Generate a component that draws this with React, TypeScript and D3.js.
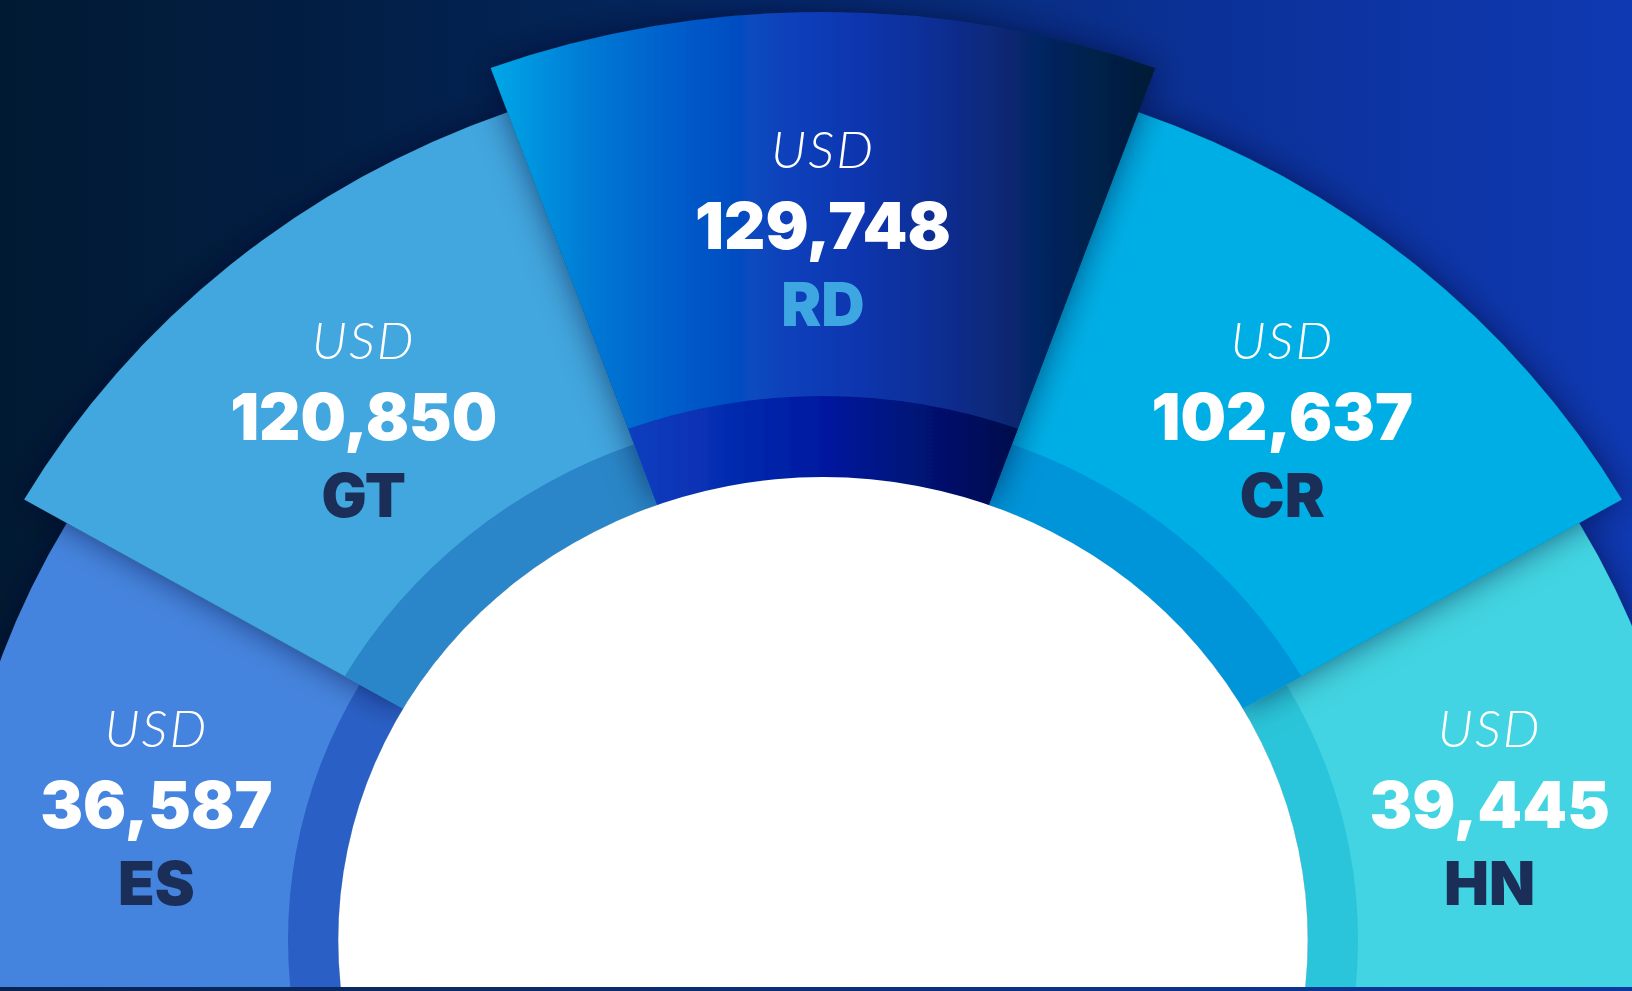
import * as d3 from "d3";
import { useEffect } from "react";

const countries = ["ES", "GT", "RD", "CR", "HN"];
const values = [36587, 120850, 129748, 102637, 39445];
const currency = "USD";

// styles, one per country
const outerFills = ["#4584de", "#43a6df", "url(#rd-outer)", "#04aee6", "#42d4e2"];
const bandFills = ["#2a60c6", "#2a86c8", "url(#rd-band)", "#0394d9", "#2bc5da"];
const codeFills = ["#1b2e58", "#1b2e58", "#3ea7e2", "#1b2e58", "#1b2e58"];

const W = 1632;
const H = 991;
const cx = 823;
const cy = 940;
const sx = 1.047; // the artwork is a little wider than tall
const inner = 463;
const rad = Math.PI / 180;

const angle = d3
  .scaleBand<string>()
  .domain(countries)
  .range([-100 * rad, 100 * rad]);

// stylised: three radius steps rather than a true linear length
const radius = d3
  .scaleThreshold<number, number>()
  .domain([50000, 125000])
  .range([834, 881, 928]);

// the dark inner band and the label ring grow with the wedge
const bandOf = d3.scaleLinear().domain([834, 928]).range([511, 544]);
const labelOf = d3.scaleLinear().domain([834, 928]).range([651, 714]);

const fmt = d3.format(",");

export default function App() {
  useEffect(() => {
    document.body.style.margin = "0";
  }, []);

  const rows = countries.map((c, i) => {
    const a0 = angle(c)!;
    const a1 = a0 + angle.bandwidth();
    const r = radius(values[i]);
    // keep the end labels in the visible part of the wedge
    const la = (Math.max(a0, -96 * rad) + Math.min(a1, 96 * rad)) / 2;
    const lr = labelOf(r);
    return {
      c,
      i,
      v: values[i],
      a0,
      a1,
      r,
      band: bandOf(r),
      lx: cx + sx * lr * Math.sin(la),
      ly: cy - lr * Math.cos(la),
    };
  });

  // smaller wedges first, so the larger ones cast their shadow on them
  const order = [...rows].sort((a, b) => a.v - b.v);

  const arc = d3.arc<any>();

  return (
    <svg
      width={W}
      height={H}
      style={{ display: "block", position: "absolute", left: 0, top: 0 }}
    >
      <defs>
        <linearGradient id="bg" x1="0" x2="1" y1="0" y2="0">
          <stop offset="0" stopColor="#011a33" />
          <stop offset="0.2" stopColor="#021e44" />
          <stop offset="0.4" stopColor="#03255c" />
          <stop offset="0.55" stopColor="#072c78" />
          <stop offset="0.75" stopColor="#0b3199" />
          <stop offset="1" stopColor="#0f39b2" />
        </linearGradient>
        <linearGradient id="strip" x1="0" x2="1" y1="0" y2="0">
          <stop offset="0" stopColor="#0a2450" />
          <stop offset="1" stopColor="#0b3aa0" />
        </linearGradient>
        <linearGradient id="rd-outer" gradientUnits="userSpaceOnUse" x1={-314} x2={314} y1={0} y2={0}>
          <stop offset="0" stopColor="#00a6e6" />
          <stop offset="0.15" stopColor="#0078d4" />
          <stop offset="0.3" stopColor="#0058c8" />
          <stop offset="0.45" stopColor="#0c40ba" />
          <stop offset="0.55" stopColor="#1036b0" />
          <stop offset="0.7" stopColor="#0a2c8c" />
          <stop offset="0.85" stopColor="#05245c" />
          <stop offset="1" stopColor="#001c36" />
        </linearGradient>
        <linearGradient id="rd-band" gradientUnits="userSpaceOnUse" x1={-190} x2={190} y1={0} y2={0}>
          <stop offset="0" stopColor="#0a40c0" />
          <stop offset="0.5" stopColor="#0219a0" />
          <stop offset="1" stopColor="#000b48" />
        </linearGradient>
        <filter id="shadow" x="-30%" y="-30%" width="160%" height="160%">
          <feDropShadow dx="0" dy="0" stdDeviation="16" floodColor="#00112c" floodOpacity="0.55" />
        </filter>
      </defs>

      <rect x={0} y={0} width={W} height={H} fill="url(#bg)" />

      <g transform={`translate(${cx},${cy}) scale(${sx},1)`}>
        {order.map((d) => (
          <g key={`w-${d.c}`} filter="url(#shadow)">
            <path
              d={arc({ innerRadius: inner, outerRadius: d.r, startAngle: d.a0, endAngle: d.a1 })!}
              fill={outerFills[d.i]}
            />
            <path
              d={arc({ innerRadius: inner, outerRadius: d.band, startAngle: d.a0, endAngle: d.a1 })!}
              fill={bandFills[d.i]}
            />
          </g>
        ))}
        <circle cx={0} cy={0} r={inner} fill="#ffffff" />
      </g>

      <rect x={0} y={H - 4} width={W} height={4} fill="url(#strip)" />

      {rows.map((d) => (
        <g key={`t-${d.c}`} transform={`translate(${d.lx},${d.ly})`} textAnchor="middle">
          <text
            y={-58}
            fill="#ffffff"
            fontFamily="Lato, 'Open Sans', sans-serif"
            fontStyle="italic"
            fontWeight={300}
            fontSize={52}
            letterSpacing={2}
          >
            {currency}
          </text>
          <text
            y={23}
            fill="#ffffff"
            fontFamily="Inter, 'Open Sans', sans-serif"
            fontWeight={900}
            fontSize={64}
          >
            {fmt(d.v)}
          </text>
          <text
            y={100}
            fill={codeFills[d.i]}
            fontFamily="Inter, 'Open Sans', sans-serif"
            fontWeight={900}
            fontSize={60}
          >
            {d.c}
          </text>
        </g>
      ))}
    </svg>
  );
}
